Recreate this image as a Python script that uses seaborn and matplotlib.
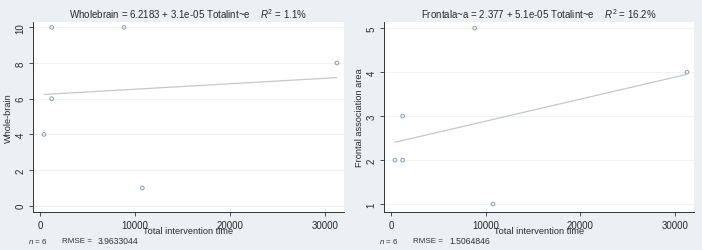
import numpy as np
import pandas as pd
import matplotlib
matplotlib.use("Agg")
import matplotlib.pyplot as plt
import seaborn as sns

# values
time = [420, 1230, 1230, 8840, 10770, 31260]
whole_brain = [4, 10, 6, 10, 1, 8]
frontal = [2, 2, 3, 5, 1, 4]

titles = ["Wholebrain = 6.2183 + 3.1e-05 Totalint~e    $R^2$ = 1.1%",
          "Frontala~a = 2.377 + 5.1e-05 Totalint~e    $R^2$ = 16.2%"]
ylabels = ["Whole-brain", "Frontal association area"]
rmse = ["3.9633044", "1.5064846"]
yticks = [[0, 2, 4, 6, 8, 10], [1, 2, 3, 4, 5]]
ylims = [(-0.35, 10.3), (0.82, 5.14)]

df = pd.DataFrame({"time": time, "whole": whole_brain, "frontal": frontal})

sns.set_style("white")
plt.rcParams["font.family"] = ["Liberation Sans", "DejaVu Sans"]
plt.rcParams["mathtext.fontset"] = "custom"
plt.rcParams["mathtext.it"] = "Liberation Sans:italic"
plt.rcParams["mathtext.rm"] = "Liberation Sans"

bg = "#eaf0f3"
ink = "#2a2a2a"
fig = plt.figure(figsize=(7.02, 2.51), dpi=100, facecolor=bg)
W, H = 702, 251
boxes = [(33, 344), (384, 694)]

for i, col in enumerate(["whole", "frontal"]):
    x0, x1 = boxes[i]
    ax = fig.add_axes([x0 / W, 1 - 213 / H, (x1 - x0) / W, 190 / H])
    ax.set_facecolor("white")
    sns.regplot(data=df, x="time", y=col, ax=ax, ci=None,
                scatter_kws={"s": 7, "facecolors": "none", "edgecolors": "#6f8496", "linewidths": 0.7},
                line_kws={"color": "#c4c8ca", "lw": 0.9})
    ax.set_xlim(-740, 32000)
    ax.set_ylim(*ylims[i])
    ax.set_xticks([0, 10000, 20000, 30000])
    ax.set_yticks(yticks[i])
    ax.yaxis.grid(True, color="#eff1f2", lw=0.8)
    ax.set_axisbelow(True)
    for s in ["top", "right"]:
        ax.spines[s].set_visible(False)
    for s in ["left", "bottom"]:
        ax.spines[s].set_color("#333333")
        ax.spines[s].set_linewidth(0.7)
    ax.tick_params(axis="both", length=3, width=0.6, color="#333333", labelsize=7,
                   labelcolor=ink, pad=2.5, left=True, bottom=True)
    for lab in ax.get_yticklabels():
        lab.set_rotation(90)
        lab.set_va("center")
    ax.set_xlabel("Total intervention time", fontsize=6.6, color=ink, labelpad=-2.5)
    ax.set_ylabel(ylabels[i], fontsize=6.6, color=ink, labelpad=2)
    ax.set_title(titles[i], fontsize=7, color=ink, pad=3)
    off = 351 * i
    fig.text((off + 28) / W, 1 - 242 / H, "$n$ = 6", fontsize=5.8, color="#333333", va="center")
    fig.text((off + 62) / W, 1 - 242 / H, "RMSE =", fontsize=5.8, color="#333333", va="center")
    fig.text((off + 98) / W, 1 - 242 / H, rmse[i], fontsize=6.2, color="#333333", va="center")

fig.savefig("out.png", dpi=100, facecolor=bg)
